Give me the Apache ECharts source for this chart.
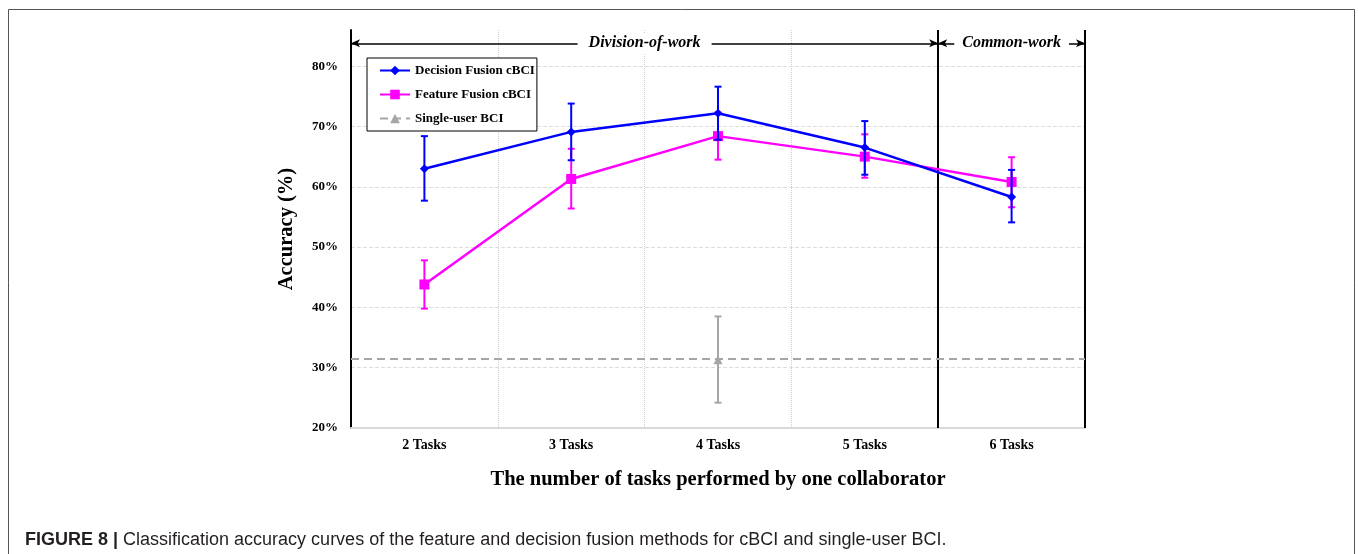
<!DOCTYPE html>
<html>
<head>
<meta charset="utf-8">
<script src="https://cdn.jsdelivr.net/npm/echarts@6/dist/echarts.min.js"></script>
<style>
html,body{margin:0;padding:0;background:#fff;}
#c{width:1358px;height:554px;}
</style>
</head>
<body>
<div id="c"></div>
<script>
// ---- data ----
var categories = ['2 Tasks', '3 Tasks', '4 Tasks', '5 Tasks', '6 Tasks'];
var decisionMean = [63.0, 69.1, 72.2, 66.5, 58.3];
var decisionLow  = [57.7, 64.4, 67.8, 62.0, 54.1];
var decisionHigh = [68.4, 73.8, 76.6, 70.9, 62.8];
var featureMean  = [43.8, 61.3, 68.4, 65.0, 60.8];
var featureLow   = [39.8, 56.4, 64.5, 61.5, 56.6];
var featureHigh  = [47.8, 66.3, 72.3, 68.7, 64.9];
var singleMean   = [null, null, 31.3, null, null];
var singleLow    = [null, null, 24.2, null, null];
var singleHigh   = [null, null, 38.5, null, null];
var singleLevel  = 31.5;
var yTicks = [20, 30, 40, 50, 60, 70, 80];
var sectionNames = ['Division-of-work', 'Common-work'];
var sectionBounds = [[0, 4], [4, 5]];
var sectionArrowLevel = 83.8;
var captionLead = 'FIGURE 8 |';
var captionText = 'Classification accuracy curves of the feature and decision fusion methods for cBCI and single-user BCI.';

var BLUE = '#0000ff', MAGENTA = '#ff00ff', GRAY = '#a6a6a6';
var SERIF = '"Liberation Serif", "Times New Roman", serif';

function errData(lo, hi) {
  var out = [];
  for (var i = 0; i < lo.length; i++) {
    if (lo[i] != null) out.push([i, lo[i], hi[i]]);
  }
  return out;
}
function errRender(color) {
  return function (params, api) {
    var x = api.value(0);
    var bot = api.coord([x, api.value(1)]);
    var top = api.coord([x, api.value(2)]);
    var hw = 3.5;
    var st = {stroke: color, lineWidth: 2};
    return {type: 'group', children: [
      {type: 'line', shape: {x1: top[0], y1: top[1], x2: bot[0], y2: bot[1]}, style: st},
      {type: 'line', shape: {x1: top[0] - hw, y1: top[1], x2: top[0] + hw, y2: top[1]}, style: st},
      {type: 'line', shape: {x1: bot[0] - hw, y1: bot[1], x2: bot[0] + hw, y2: bot[1]}, style: st}
    ]};
  };
}

var chart = echarts.init(document.getElementById('c'), null, {renderer: 'canvas'});
var option = {
  animation: false,
  backgroundColor: '#fff',
  title: {
    left: 20, top: 526,
    text: '{b|' + captionLead + '} {n|' + captionText + '}',
    textStyle: {
      rich: {
        b: {fontFamily: '"Liberation Sans", Arial, sans-serif', fontWeight: 'bold', fontSize: 18, color: '#231f20'},
        n: {fontFamily: '"Liberation Sans", Arial, sans-serif', fontWeight: 'normal', fontSize: 18, color: '#231f20'}
      }
    }
  },
  graphic: [{
    type: 'rect', silent: true, z: -1,
    shape: {x: 8.5, y: 9.5, width: 1346, height: 600},
    style: {fill: 'none', stroke: '#555', lineWidth: 1}
  }],
  legend: {
    orient: 'vertical',
    left: 367, top: 58,
    data: ['Decision Fusion cBCI', 'Feature Fusion cBCI', 'Single-user BCI'],
    backgroundColor: '#fff',
    borderColor: '#000', borderWidth: 1,
    padding: [6, 2, 6, 12],
    itemGap: 11,
    itemWidth: 30, itemHeight: 12,
    textStyle: {fontFamily: SERIF, fontWeight: 'bold', fontSize: 13, color: '#000'}
  },
  grid: {left: 351, right: 273, top: 30, bottom: 126, containLabel: false},
  xAxis: [{
    type: 'category',
    data: categories,
    boundaryGap: true,
    axisLine: {show: true, lineStyle: {color: '#d9d9d9', width: 2}},
    axisTick: {show: false},
    splitLine: {show: true, lineStyle: {color: '#cfcfcf', type: 'dotted', width: 1}},
    axisLabel: {margin: 10, fontFamily: SERIF, fontWeight: 'bold', fontSize: 14, color: '#000'},
    name: 'The number of tasks performed by one collaborator',
    nameLocation: 'middle', nameGap: 41,
    nameTextStyle: {fontFamily: SERIF, fontWeight: 'bold', fontSize: 20.5, color: '#000'}
  }, {
    type: 'value', min: 0, max: 5, show: false
  }],
  yAxis: [{
    type: 'value', min: 20, max: 86, interval: 10,
    axisLine: {show: true, lineStyle: {color: '#000', width: 2}},
    axisTick: {show: false},
    splitLine: {show: true, showMaxLine: false, lineStyle: {color: '#dcdcdc', type: 'dashed', width: 1}},
    axisLabel: {
      margin: 13, fontFamily: SERIF, fontWeight: 'bold', fontSize: 13, color: '#000',
      formatter: function (v) { return yTicks.indexOf(v) >= 0 ? v + '%' : ''; }
    },
    name: 'Accuracy (%)',
    nameLocation: 'middle', nameGap: 54,
    nameTextStyle: {fontFamily: SERIF, fontWeight: 'bold', fontSize: 20.5, color: '#000'}
  }],
  series: [
    {
      name: 'sections', type: 'line', xAxisIndex: 1, data: [], silent: true,
      markLine: {
        silent: true, animation: false,
        symbol: ['none', 'none'],
        lineStyle: {color: '#000', width: 2, type: 'solid'},
        label: {show: false},
        data: [
          {xAxis: sectionBounds[0][1]},
          {xAxis: sectionBounds[1][1]},
          [
            {coord: [sectionBounds[0][0], sectionArrowLevel], symbol: 'arrow', symbolSize: [6, 9]},
            {coord: [sectionBounds[0][1], sectionArrowLevel], symbol: 'arrow', symbolSize: [6, 9],
             lineStyle: {color: '#000', width: 1.5},
             label: {show: true, position: 'middle', formatter: sectionNames[0], distance: 0,
               backgroundColor: '#fff', padding: [2, 11], verticalAlign: 'middle',
               fontFamily: SERIF, fontWeight: 'bold', fontStyle: 'italic', fontSize: 16, color: '#000'}}
          ],
          [
            {coord: [sectionBounds[1][0], sectionArrowLevel], symbol: 'arrow', symbolSize: [6, 9]},
            {coord: [sectionBounds[1][1], sectionArrowLevel], symbol: 'arrow', symbolSize: [6, 9],
             lineStyle: {color: '#000', width: 1.5},
             label: {show: true, position: 'middle', formatter: sectionNames[1], distance: 0,
               backgroundColor: '#fff', padding: [2, 8], verticalAlign: 'middle',
               fontFamily: SERIF, fontWeight: 'bold', fontStyle: 'italic', fontSize: 16, color: '#000'}}
          ]
        ]
      }
    },
    {
      name: 'Single-user BCI', type: 'line', data: singleMean,
      symbol: 'triangle', symbolSize: 9,
      itemStyle: {color: GRAY},
      lineStyle: {color: GRAY, width: 2, type: [8, 5]},
      z: 3,
      markLine: {
        silent: true, animation: false, symbol: ['none', 'none'],
        label: {show: false},
        lineStyle: {color: GRAY, width: 2, type: [8, 5]},
        data: [{yAxis: singleLevel}]
      }
    },
    {
      name: 'single-err', type: 'custom', renderItem: errRender(GRAY),
      data: errData(singleLow, singleHigh), encode: {x: 0, y: [1, 2]}, z: 3, silent: true
    },
    {
      name: 'feature-err', type: 'custom', renderItem: errRender(MAGENTA),
      data: errData(featureLow, featureHigh), encode: {x: 0, y: [1, 2]}, z: 4, silent: true
    },
    {
      name: 'Feature Fusion cBCI', type: 'line', data: featureMean,
      symbol: 'rect', symbolSize: 10,
      itemStyle: {color: MAGENTA},
      lineStyle: {color: MAGENTA, width: 2.5}, z: 5
    },
    {
      name: 'decision-err', type: 'custom', renderItem: errRender(BLUE),
      data: errData(decisionLow, decisionHigh), encode: {x: 0, y: [1, 2]}, z: 6, silent: true
    },
    {
      name: 'Decision Fusion cBCI', type: 'line', data: decisionMean,
      symbol: 'diamond', symbolSize: 9,
      itemStyle: {color: BLUE},
      lineStyle: {color: BLUE, width: 2.5}, z: 7
    }
  ]
};
chart.setOption(option);
</script>
</body>
</html>
